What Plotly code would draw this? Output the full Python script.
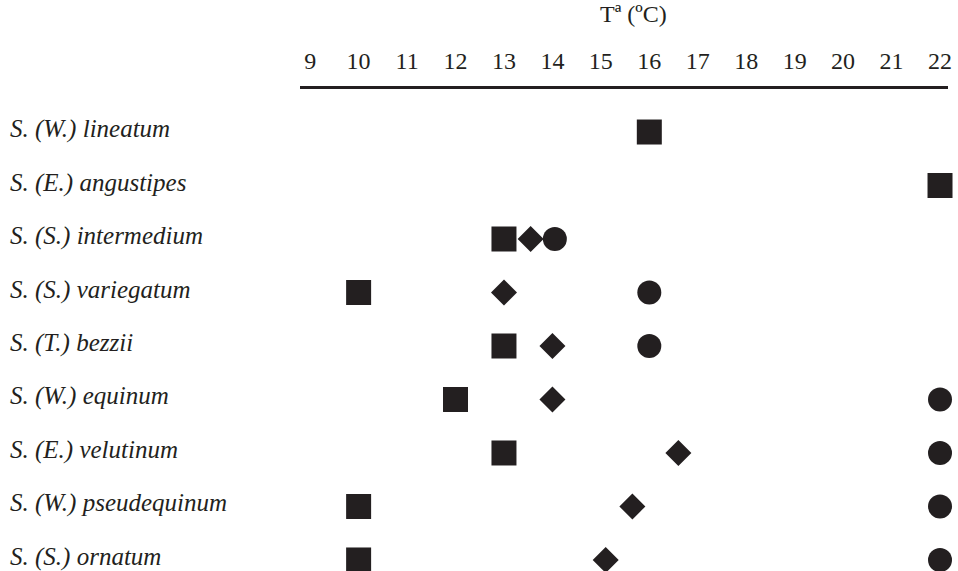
import plotly.graph_objects as go

species = [
    "S. (W.) lineatum",
    "S. (E.) angustipes",
    "S. (S.) intermedium",
    "S. (S.) variegatum",
    "S. (T.) bezzii",
    "S. (W.) equinum",
    "S. (E.) velutinum",
    "S. (W.) pseudequinum",
    "S. (S.) ornatum",
]
# temperature (ºC) per species for each marker shape; None = no mark
square_t = [16, 22, 13, 10, 13, 12, 13, 10, 10]
diamond_t = [None, None, 13.55, 13, 14, 14, 16.6, 15.65, 15.1]
circle_t = [None, None, 14.05, 16, 16, 22, 22, 22, 22]
temp_ticks = list(range(9, 23))

INK = "#231f20"
SERIF = "Liberation Serif, Times New Roman, serif"

rows = list(range(len(species)))


def series(vals, symbol, size):
    xs = [v for v in vals if v is not None]
    ys = [r for r, v in zip(rows, vals) if v is not None]
    return go.Scatter(
        x=xs, y=ys, mode="markers", cliponaxis=False, showlegend=False,
        marker=dict(symbol=symbol, size=size, color=INK, line=dict(width=0)),
    )


fig = go.Figure()
fig.add_trace(series(square_t, "square", 25))
fig.add_trace(series(diamond_t, "diamond", 20))
fig.add_trace(series(circle_t, "circle", 24))

for r, name in zip(rows, species):
    fig.add_annotation(
        x=-0.4506, xref="paper", y=r, yref="y", yshift=3, text=name,
        xanchor="left", yanchor="middle", showarrow=False,
        font=dict(family=SERIF, size=25, color=INK, style="italic"),
    )

fig.add_annotation(
    x=0.515, xref="paper", y=1.155, yref="paper", yanchor="middle",
    text="Tª (ºC)", showarrow=False,
    font=dict(family=SERIF, size=24, color=INK),
)

fig.update_layout(
    width=958, height=571,
    margin=dict(l=300, r=10, t=89, b=0),
    plot_bgcolor="white", paper_bgcolor="white",
    xaxis=dict(
        side="top", range=[8.79, 22.165], tickvals=temp_ticks,
        showgrid=False, zeroline=False, showline=True,
        linecolor=INK, linewidth=3, ticks="", ticklabelstandoff=7,
        tickfont=dict(family=SERIF, size=24, color=INK),
    ),
    yaxis=dict(
        range=[8.206, -0.804], showgrid=False, zeroline=False,
        showticklabels=False, showline=False,
    ),
)

fig.write_html("out.html")
